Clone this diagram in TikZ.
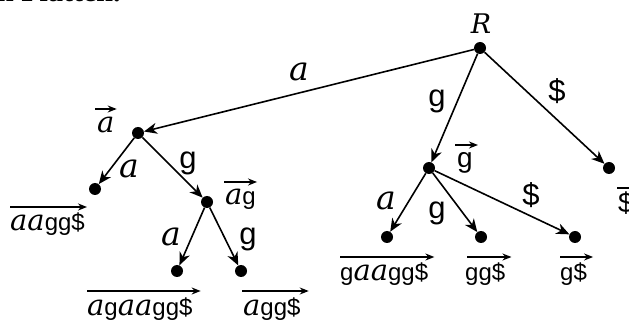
\documentclass[tikz,border=0pt]{standalone}
\usepackage{fontspec}
\setmainfont{Liberation Sans}
\newfontfamily\serifit{DejaVu Serif}
\newfontfamily\serifbf{Liberation Serif}
\usetikzlibrary{arrows.meta,calc}
\newcommand\A[1]{{\serifit\itshape\fontsize{29}{29}\selectfont #1}}
\newcommand\vlab[6]{\node[vt] (#1) at (#2) {#3};
  \draw[varr] ($(#1.base west)+(#5,-#4)$) -- ($(#1.base east)+(#6,-#4)$);}
\begin{document}
\begin{tikzpicture}[x=1pt,y=-1pt,
  dot/.style={circle,fill=black,inner sep=0pt,minimum size=12pt},
  edge/.style={line width=1.6pt,-{Stealth[length=13pt,width=11pt,inset=4pt]}},
  sl/.style={font=\fontsize{31}{31}\selectfont,inner sep=0pt},
  il/.style={font=\serifit\itshape\fontsize{33}{33}\selectfont,inner sep=0pt},
  vt/.style={font=\fontsize{24}{24}\selectfont,inner sep=0pt,anchor=base west},
  varr/.style={line width=1.5pt,-{Stealth[length=9pt,width=7pt]}}]
\useasboundingbox (0,0) rectangle (629,320);
\clip (0,0) rectangle (629,320);
% clipped heading line at the very top
\node[font=\serifbf\bfseries\fontsize{30}{30}\selectfont,inner sep=0pt,anchor=base west] (head) at (-3,2) {n Platten.};
% tree nodes
\node[dot] (R) at (480,48) {};
\node[font=\serifit\itshape\fontsize{27}{27}\selectfont,inner sep=0pt] (Rl) at (481,24) {R};
\node[dot] (A) at (138,133) {};
\node[dot] (G) at (429,168) {};
\node[dot] (D) at (609,168) {};
\node[dot] (AA) at (95,189) {};
\node[dot] (AG) at (207,202) {};
\node[dot] (AGA) at (177,271) {};
\node[dot] (AGG) at (241,271) {};
\node[dot] (GA) at (387,237) {};
\node[dot] (GG) at (481,237) {};
\node[dot] (GD) at (575,237) {};
% edges
\draw[edge] (R) -- (A);
\draw[edge] (R) -- (G);
\draw[edge] (R) -- (D);
\draw[edge] (A) -- (AA);
\draw[edge] (A) -- (AG);
\draw[edge] (AG) -- (AGA);
\draw[edge] (AG) -- (AGG);
\draw[edge] (G) -- (GA);
\draw[edge] (G) -- (GG);
\draw[edge] (G) -- (GD);
% edge labels
\node[il] (eRA) at (299,72) {a};
\node[sl] (eRG) at (437,101) {g};
\node[sl] (eRD) at (557,91) {\$};
\node[il] (eAA) at (129,169) {a};
\node[sl] (eAG) at (188,163) {g};
\node[il] (eAGA) at (171,237) {a};
\node[sl] (eAGG) at (248,239) {g};
\node[il] (eGA) at (386,201) {a};
\node[sl] (eGG) at (437,213) {g};
\node[sl] (eGD) at (531,195) {\$};
% vector labels
\vlab{vA}{97,133}{\A{a}}{24}{-2}{2}
\vlab{vAG}{225,205}{\A{a}g}{23}{-1}{1}
\vlab{vG}{457,168}{\fontsize{28}{28}\selectfont g}{23}{-2}{5}
\vlab{vD}{618,213}{\fontsize{28}{28}\selectfont\$}{25}{-1}{20}
\vlab{vAA}{10,231}{\A{aa}gg\$}{24}{0}{2}
\vlab{vAGA}{87,316}{\A{a}g\A{aa}gg\$}{25}{0}{8}
\vlab{vAGG}{243,316}{\A{a}gg\$}{25}{-1}{8}
\vlab{vGA}{340,280}{g\A{aa}gg\$}{23}{0}{6}
\vlab{vGG}{465,280}{gg\$}{23}{2}{6}
\vlab{vGD}{560,280}{g\$}{23}{0}{6}
\end{tikzpicture}
\end{document}
